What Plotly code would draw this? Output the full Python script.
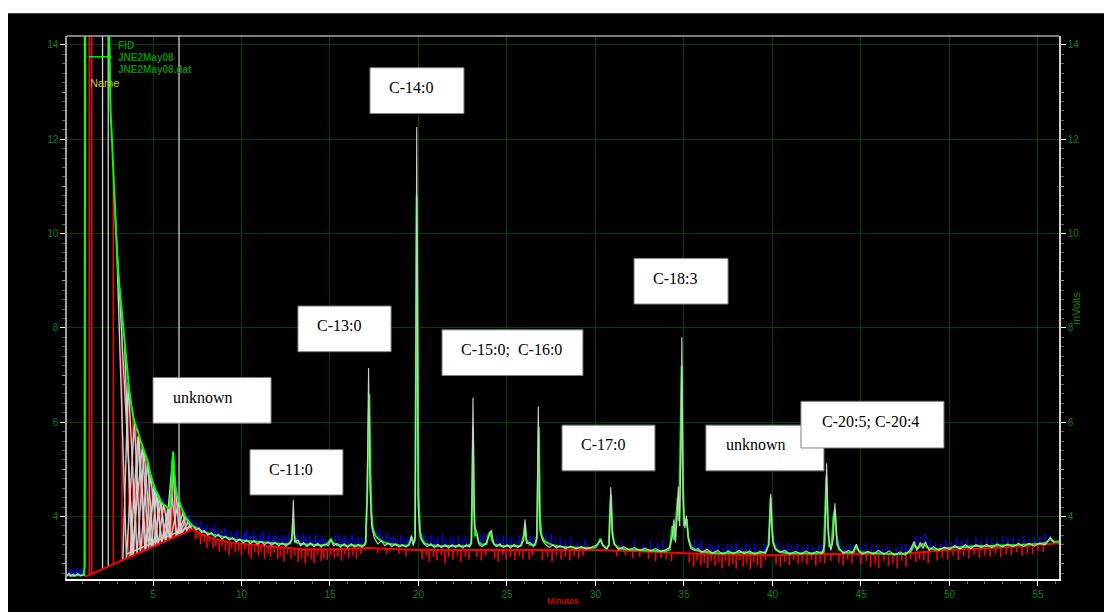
import numpy as np
import plotly.graph_objects as go

# FID detector trace, JNE2May08.dat  (retention time in minutes, signal in mV)
green_min = [0.14, 0.3, 0.5, 0.7, 0.9, 1.08, 1.14, 1.17, 2.50, 2.55, 2.60, 2.68, 2.76, 2.85, 2.95, 3.05,
             3.15, 3.23, 3.35, 3.51, 3.65, 3.80, 3.92, 4.05, 4.15, 4.3, 4.45, 4.6, 4.72, 4.85, 5.0, 5.15,
             5.3, 5.45, 5.56, 5.7, 5.85, 5.96, 6.04, 6.10, 6.14, 6.2, 6.28, 6.36, 6.5, 6.6, 6.7, 6.85,
             7.0, 7.1, 7.25, 7.37, 7.5, 7.66, 7.8, 8.0, 8.2, 8.39, 8.6, 8.8, 9.0, 9.25, 9.52, 9.8,
             10.1, 10.4, 10.7, 11.0, 11.3, 11.6, 11.9, 12.2, 12.5, 12.75, 12.85, 12.92, 12.98, 13.1,
             13.3, 13.6, 13.9, 14.2, 14.5, 14.8, 14.95, 15.05, 15.15, 15.4, 15.7, 16.0, 16.3, 16.6,
             16.9, 17.02, 17.1, 17.17, 17.22, 17.28, 17.34, 17.42, 17.55, 17.75, 18.0, 18.3, 18.6,
             18.9, 19.2, 19.45, 19.55, 19.62, 19.7, 19.8, 19.86, 19.9, 19.95, 20.0, 20.08, 20.2, 20.4,
             20.7, 21.0, 21.3, 21.6, 21.9, 22.2, 22.5, 22.8, 22.98, 23.04, 23.08, 23.13, 23.2, 23.3,
             23.4, 23.6, 23.85, 23.95, 24.05, 24.15, 24.3, 24.6, 24.9, 25.2, 25.5, 25.8, 25.95, 26.02,
             26.1, 26.3, 26.6, 26.7, 26.75, 26.8, 26.86, 26.95, 27.1, 27.4, 27.7, 28.0, 28.4, 28.8,
             29.2, 29.6, 30.0, 30.15, 30.28, 30.4, 30.6, 30.75, 30.82, 30.88, 30.95, 31.05, 31.3,
             31.6, 32.0, 32.4, 32.8, 33.2, 33.6, 33.9, 34.2, 34.35, 34.43, 34.55, 34.65, 34.72, 34.8,
             34.87, 34.93, 35.0, 35.1, 35.15, 35.25, 35.4, 35.7, 36.0, 36.4, 36.8, 37.2, 37.6, 38.0,
             38.4, 38.8, 39.2, 39.6, 39.78, 39.85, 39.9, 39.97, 40.05, 40.2, 40.5, 40.9, 41.3, 41.7,
             42.1, 42.5, 42.9, 42.98, 43.05, 43.12, 43.22, 43.35, 43.45, 43.53, 43.62, 43.75, 44.0,
             44.3, 44.6, 44.72, 44.8, 45.0, 45.4, 45.8, 46.2, 46.6, 47.0, 47.4, 47.8, 48.0, 48.2,
             48.5, 48.8, 49.2, 49.6, 50.0, 50.4, 50.8, 51.2, 51.6, 52.0, 52.4, 52.8, 53.2, 53.6,
             54.0, 54.4, 54.8, 55.2, 55.5, 55.7, 55.9, 56.19]
green_mv = [2.75, 2.76, 2.74, 2.76, 2.75, 2.76, 2.95, 15.0, 15.0, 13.2, 12.6, 12.0, 11.3, 10.4, 9.7, 9.1,
            8.7, 8.35, 7.8, 7.1, 6.7, 6.3, 6.05, 5.9, 5.8, 5.6, 5.45, 5.3, 5.15, 4.9, 4.7, 4.55,
            4.45, 4.32, 4.27, 4.22, 4.18, 4.2, 4.55, 5.2, 5.37, 4.95, 4.6, 4.45, 4.3, 4.2, 4.1, 3.98,
            3.9, 3.86, 3.8, 3.77, 3.74, 3.7, 3.68, 3.66, 3.63, 3.62, 3.6, 3.58, 3.56, 3.54, 3.52, 3.5,
            3.49, 3.47, 3.46, 3.45, 3.44, 3.43, 3.42, 3.42, 3.41, 3.43, 3.55, 3.95, 3.62, 3.45,
            3.42, 3.41, 3.4, 3.4, 3.39, 3.4, 3.46, 3.52, 3.45, 3.39, 3.39, 3.38, 3.39, 3.38,
            3.39, 3.45, 4.4, 6.3, 6.6, 5.0, 4.1, 3.75, 3.6, 3.52, 3.46, 3.42, 3.4,
            3.39, 3.38, 3.39, 3.5, 3.56, 3.42, 3.5, 7.5, 10.8, 8.0, 4.5, 3.7, 3.5, 3.42,
            3.39, 3.38, 3.37, 3.38, 3.37, 3.38, 3.37, 3.38, 3.42, 4.6, 5.9, 4.3, 3.6, 3.62,
            3.45, 3.4, 3.42, 3.6, 3.68, 3.5, 3.4, 3.38, 3.37, 3.38, 3.37, 3.38, 3.6, 3.85,
            3.5, 3.4, 3.4, 3.6, 5.6, 5.9, 4.0, 3.6, 3.48, 3.42, 3.38, 3.36, 3.35, 3.34,
            3.33, 3.33, 3.34, 3.42, 3.53, 3.4, 3.33, 3.38, 4.1, 4.45, 3.7, 3.42, 3.33,
            3.31, 3.3, 3.29, 3.28, 3.27, 3.26, 3.26, 3.3, 3.8, 3.5, 3.9, 4.4, 3.9, 5.5,
            7.2, 5.0, 3.8, 3.9, 3.95, 3.55, 3.35, 3.28, 3.25, 3.24, 3.22, 3.22, 3.22, 3.23,
            3.24, 3.22, 3.22, 3.24, 3.4, 4.0, 4.4, 3.8, 3.45, 3.3, 3.24, 3.22, 3.22, 3.22,
            3.22, 3.22, 3.25, 4.3, 4.85, 3.9, 3.35, 3.4, 4.0, 4.15, 3.6, 3.3, 3.24,
            3.23, 3.25, 3.4, 3.3, 3.24, 3.23, 3.23, 3.22, 3.21, 3.2, 3.21, 3.25, 3.4, 3.32,
            3.42, 3.33, 3.3, 3.32, 3.34, 3.35, 3.35, 3.36, 3.38, 3.37, 3.38, 3.38, 3.39, 3.39,
            3.4, 3.4, 3.41, 3.42, 3.45, 3.52, 3.46, 3.47]

# Second (grey) detector trace: finer sampling, full peak apexes
grey_min = [0.14, 0.25, 0.35, 0.5, 0.6, 0.75, 0.9, 1.05, None,
            7.3, 7.45, 7.6, 7.75, 7.9, 8.1, 8.3, 8.5, 8.7, 8.9, 9.1, 9.3, 9.5, 9.7, 9.9, 10.1, 10.3,
            10.5, 10.7, 10.9, 11.1, 11.3, 11.5, 11.7, 11.9, 12.1, 12.3, 12.5, 12.7, 12.85, 12.93,
            13.0, 13.2, 13.35, 13.5, 13.7, 13.9, 14.1, 14.3, 14.5, 14.7, 14.9, 15.05, 15.2, 15.4,
            15.6, 15.8, 16.0, 16.2, 16.4, 16.6, 16.8, 17.0, 17.1, 17.18, 17.26, 17.35, 17.5, 17.7,
            17.9, 18.1, 18.3, 18.5, 18.7, 18.9, 19.1, 19.3, 19.5, 19.6, 19.7, 19.82, 19.9, 19.98,
            20.1, 20.3, 20.5, 20.7, 20.9, 21.1, 21.3, 21.5, 21.7, 21.9, 22.1, 22.3, 22.5, 22.7,
            22.9, 23.0, 23.08, 23.16, 23.3, 23.42, 23.6, 23.8, 23.95, 24.12, 24.25, 24.4, 24.6,
            24.8, 25.0, 25.2, 25.4, 25.6, 25.8, 25.95, 26.02, 26.1, 26.3, 26.5, 26.68, 26.77,
            26.86, 27.0, 27.2, 27.4, 27.6, 27.8, 28.0, 28.3, 28.6, 28.9, 29.2, 29.5, 29.8, 30.1,
            30.29, 30.45, 30.65, 30.78, 30.86, 30.95, 31.1, 31.3, 31.6, 31.9, 32.2, 32.5, 32.8,
            33.1, 33.4, 33.7, 34.0, 34.2, 34.35, 34.43, 34.52, 34.6, 34.68, 34.76, 34.82, 34.88,
            34.95, 35.05, 35.14, 35.25, 35.4, 35.6, 35.8, 36.0, 36.3, 36.6, 36.9, 37.2, 37.5,
            37.8, 38.1, 38.4, 38.7, 39.0, 39.3, 39.6, 39.8, 39.9, 40.0, 40.15, 40.4, 40.7, 41.0,
            41.3, 41.6, 41.9, 42.2, 42.5, 42.8, 42.96, 43.06, 43.16, 43.3, 43.43, 43.53, 43.64,
            43.8, 44.0, 44.3, 44.5, 44.75, 44.9, 45.1, 45.4, 45.7, 46.0, 46.3, 46.6, 46.9, 47.2,
            47.5, 47.8, 48.0, 48.15, 48.35, 48.5, 48.65, 48.85, 49.1, 49.4, 49.7, 50.0, 50.3,
            50.6, 50.9, 51.2, 51.5, 51.8, 52.1, 52.4, 52.7, 53.0, 53.3, 53.6, 53.9, 54.2, 54.5,
            54.8, 55.1, 55.4, 55.7, 55.9]
grey_mv = [2.74, 2.8, 2.73, 2.78, 2.74, 2.79, 2.74, 2.77, None,
           3.78, 3.72, 3.76, 3.66, 3.7, 3.6, 3.66, 3.56, 3.62, 3.52, 3.58, 3.5, 3.55, 3.46, 3.52, 3.44, 3.5,
           3.42, 3.49, 3.41, 3.47, 3.4, 3.46, 3.39, 3.45, 3.38, 3.44, 3.37, 3.43, 3.5, 4.35,
           3.45, 3.5, 3.37, 3.45, 3.36, 3.44, 3.36, 3.43, 3.35, 3.42, 3.38, 3.5, 3.38, 3.43,
           3.35, 3.42, 3.35, 3.42, 3.35, 3.41, 3.35, 3.4, 4.5, 7.15, 4.6, 3.8, 3.55, 3.42,
           3.48, 3.38, 3.44, 3.36, 3.42, 3.35, 3.4, 3.35, 3.42, 3.6, 3.38, 3.6, 12.26, 4.2,
           3.55, 3.42, 3.36, 3.42, 3.34, 3.41, 3.34, 3.4, 3.33, 3.4, 3.34, 3.41, 3.33, 3.4,
           3.35, 3.5, 6.52, 3.8, 3.66, 3.4, 3.36, 3.42, 3.55, 3.71, 3.42, 3.36, 3.42,
           3.34, 3.4, 3.33, 3.41, 3.34, 3.4, 3.5, 3.94, 3.42, 3.45, 3.36, 3.5, 6.33,
           3.7, 3.5, 3.4, 3.34, 3.4, 3.33, 3.38, 3.32, 3.37, 3.31, 3.36, 3.31, 3.35, 3.4,
           3.5, 3.36, 3.31, 3.4, 4.62, 3.6, 3.4, 3.3, 3.36, 3.29, 3.34, 3.28, 3.33,
           3.27, 3.32, 3.26, 3.3, 3.35, 3.6, 3.94, 3.45, 3.9, 4.63, 3.8, 5.2, 7.8,
           4.4, 3.75, 4.02, 3.5, 3.32, 3.28, 3.32, 3.24, 3.3, 3.22, 3.28, 3.2, 3.27,
           3.21, 3.28, 3.21, 3.27, 3.2, 3.26, 3.22, 3.4, 4.48, 3.5, 3.3, 3.24, 3.28, 3.2,
           3.26, 3.2, 3.27, 3.2, 3.26, 3.21, 3.4, 5.13, 3.6, 3.28, 3.5, 4.28, 3.4,
           3.32, 3.22, 3.28, 3.22, 3.41, 3.25, 3.2, 3.26, 3.2, 3.28, 3.2, 3.27, 3.18, 3.25,
           3.18, 3.3, 3.47, 3.28, 3.45, 3.32, 3.46, 3.28, 3.36, 3.28, 3.35, 3.3, 3.38,
           3.31, 3.4, 3.32, 3.4, 3.34, 3.41, 3.34, 3.42, 3.35, 3.42, 3.36, 3.43, 3.36, 3.43,
           3.37, 3.44, 3.4, 3.56, 3.45]

# Integration baseline
base_min = [1.16, 7.26, 7.66, 8.4, 9.5, 11.4, 13.3, 15.0, 17.0, 20.0, 25.0, 30.0, 32.0, 35.0,
            38.0, 40.0, 42.0, 45.0, 47.0, 50.0, 53.0, 55.0, 56.19]
base_mv = [2.72, 3.73, 3.64, 3.53, 3.44, 3.37, 3.31, 3.3, 3.33, 3.29, 3.29, 3.29, 3.27, 3.22,
           3.19, 3.18, 3.2, 3.21, 3.2, 3.29, 3.34, 3.39, 3.43]

# Peak drop lines in the solvent tail
drop_min = [1.40, 1.54, 2.76, 3.25, 3.62, 3.85, 4.05, 4.25, 4.42, 4.6, 4.78, 4.95, 5.1, 5.25,
            5.4, 5.55, 5.72, 5.88, 6.04, 6.12, 6.25, 6.4, 6.58, 6.75, 6.92, 7.08]

# Peak start / stop markers in the solvent tail (None separates markers)
fan_min = [2.95, 3.5, 3.95, 4.3, 4.7, 5.0, 5.45, 5.7, 6.14, 6.3, 6.7, 6.9, 7.1, None,
           3.3, 3.6, 4.1, 4.5, 4.9, 5.2, 5.5, 5.85, 6.0, 6.45, 6.6, 7.0, None,
           2.8, 3.9, 4.2, 4.6, 4.85, 5.3, 5.6, 5.95, 6.14, None,
           3.4, 3.8, 4.4, 4.75, 5.05, 5.15, 5.35, 5.75, 6.2, 6.5, 6.85, 7.2, None,
           3.7, 4.15, 4.55, 5.12, 5.5, 6.05, 6.35, 6.8, None,
           3.5, 7.2]
fan_mv = [9.7, 3.108, 6.0, 3.24, 5.18, 3.356, 4.32, 3.47, 5.37, 3.571, 4.1, 3.67, 3.86, None,
          3.074, 6.85, 3.207, 5.4, 3.34, 4.52, 3.44, 4.18, 3.52, 4.33, 3.62, 3.9, None,
          10.9, 3.174, 5.73, 3.29, 4.9, 3.406, 4.26, 3.513, 5.37, None,
          7.6, 3.16, 5.5, 3.32, 4.65, 3.37, 4.44, 3.48, 4.95, 3.6, 3.98, 3.72, None,
          3.14, 5.7, 3.28, 4.57, 3.44, 4.5, 3.58, 4.0, None,
          3.2, 3.8]

# Timed events (vertical markers) and where they stop
event_min = [1.13, 2.15, 2.47, 6.47]
event_low = [2.74, 2.88, 2.93, 3.85]

# Positive noise spikes above the trace (min, height mV)
blue_min = [0.3, 0.42, 0.55, 0.68, 0.8, 0.95, 3.93, 4.85, 5.3, 5.55, 6.35, 6.8, 7.05, 7.2,
            7.45, 7.7, 7.85, 8.05, 8.3, 8.5, 8.65, 8.85, 9.05, 9.2, 9.4, 9.6, 9.75, 9.95, 10.15,
            10.3, 10.5, 10.7, 10.85, 11.05, 11.2, 11.4, 11.55, 11.75, 11.9, 12.1, 12.3, 12.45,
            12.65, 13.15, 13.3, 13.5, 13.65, 13.85, 14.0, 14.2, 14.4, 14.55, 14.75, 15.3, 15.5,
            15.7, 15.85, 16.05, 16.25, 16.4, 16.6, 16.8, 17.6, 17.8, 18.0, 18.2, 18.4, 18.6,
            18.8, 19.0, 19.2, 19.4, 20.3, 20.5, 20.7, 20.9, 21.1, 21.35, 21.55, 21.8, 22.0,
            22.25, 22.5, 22.7, 23.5, 23.7, 24.4, 24.6, 24.8, 25.0, 25.25, 25.5, 25.7, 26.3,
            26.5, 27.2, 27.5, 27.75, 28.0, 28.3, 28.6, 29.0, 29.4, 31.5, 32.2, 32.7, 33.1, 33.5,
            33.8, 35.6, 35.8, 36.0, 36.25, 36.5, 36.7, 36.95, 37.2, 37.45, 37.7, 37.95, 38.2,
            38.5, 38.75, 39.0, 39.3, 39.55, 40.3, 40.6, 40.85, 41.1, 41.4, 41.7, 42.0, 42.3,
            42.6, 42.8, 43.8, 44.1, 44.4, 45.0, 45.3, 45.6, 45.9, 46.2, 46.5, 47.0, 47.3, 47.55,
            47.8, 48.1, 48.35, 48.6, 48.9, 49.2, 49.5, 49.8, 50.1, 50.4, 50.7, 51.0, 51.5, 51.8,
            52.1, 52.4, 52.7, 53.0, 53.3, 53.6, 53.9, 54.2, 54.5, 54.8, 55.1, 55.4]
blue_h = [0.12, 0.15, 0.08, 0.13, 0.1, 0.14, 0.08, 0.1, 0.1, 0.12, 0.1, 0.12, 0.15, 0.12,
          0.15, 0.2, 0.1, 0.18, 0.12, 0.2, 0.1, 0.15, 0.22, 0.1, 0.16, 0.12, 0.2, 0.1, 0.18,
          0.22, 0.14, 0.2, 0.1, 0.18, 0.24, 0.12, 0.2, 0.15, 0.22, 0.12, 0.2, 0.16,
          0.22, 0.2, 0.12, 0.22, 0.15, 0.2, 0.1, 0.22, 0.14, 0.2, 0.12, 0.18, 0.22,
          0.12, 0.2, 0.15, 0.24, 0.12, 0.2, 0.16, 0.15, 0.2, 0.12, 0.22, 0.15, 0.2,
          0.12, 0.22, 0.14, 0.18, 0.2, 0.12, 0.22, 0.14, 0.2, 0.25, 0.12, 0.2, 0.15,
          0.22, 0.12, 0.2, 0.18, 0.22, 0.2, 0.12, 0.22, 0.15, 0.2, 0.12, 0.22, 0.2,
          0.15, 0.18, 0.22, 0.12, 0.2, 0.15, 0.22, 0.12, 0.18, 0.15, 0.2, 0.12, 0.22, 0.18,
          0.24, 0.22, 0.15, 0.25, 0.12, 0.2, 0.15, 0.22, 0.12, 0.2, 0.15, 0.22, 0.12,
          0.2, 0.15, 0.22, 0.12, 0.18, 0.2, 0.12, 0.22, 0.15, 0.2, 0.15, 0.2, 0.12,
          0.18, 0.15, 0.2, 0.12, 0.18, 0.15, 0.2, 0.12, 0.15, 0.12, 0.18, 0.15, 0.2, 0.18,
          0.12, 0.22, 0.2, 0.25, 0.2, 0.15, 0.12, 0.18, 0.12, 0.2, 0.15, 0.18, 0.2, 0.12,
          0.18, 0.15, 0.12, 0.2, 0.15, 0.18, 0.12, 0.2, 0.12, 0.18, 0.15, 0.2]

# Negative noise spikes below the baseline (min, depth mV)
red_min = [7.4, 7.55, 7.7, 7.9, 8.05, 8.2, 8.4, 8.55, 8.75, 8.9, 9.1, 9.3, 9.45, 9.65, 9.85,
           10.0, 10.2, 10.4, 10.55, 10.75, 10.95, 11.1, 11.3, 11.5, 11.65, 11.85, 12.05, 12.2,
           12.4, 12.6, 12.8, 13.0, 13.2, 13.4, 13.6, 13.75, 13.95, 14.1, 14.3, 14.5, 14.65,
           14.85, 15.05, 15.25, 15.45, 15.65, 15.85, 16.05, 16.3, 16.5, 16.75, 17.7, 18.2, 18.9,
           19.3, 20.2, 20.45, 20.6, 20.85, 21.05, 21.3, 21.5, 21.7, 21.95, 22.2, 22.4, 22.65,
           22.85, 23.3, 23.55, 23.8, 24.3, 24.5, 24.75, 24.95, 25.2, 25.45, 25.7, 25.9, 26.25,
           26.45, 27.0, 27.3, 27.55, 27.8, 28.05, 28.3, 28.55, 28.8, 29.05, 29.3, 31.2, 31.7,
           32.1, 32.5, 33.0, 33.4, 33.7, 34.0, 34.3, 35.3, 35.55, 35.75, 35.95, 36.15, 36.35,
           36.55, 36.75, 36.95, 37.15, 37.35, 37.55, 37.75, 37.95, 38.15, 38.35, 38.55, 38.75,
           38.95, 39.15, 39.35, 39.6, 40.2, 40.45, 40.7, 40.95, 41.2, 41.45, 41.7, 41.95, 42.2,
           42.45, 42.7, 42.95, 43.3, 43.75, 44.0, 44.25, 44.5, 45.0, 45.3, 45.55, 45.8, 46.0,
           46.3, 46.55, 46.8, 47.05, 47.3, 47.55, 47.8, 48.1, 48.3, 48.55, 48.8, 49.3, 49.6,
           49.9, 50.2, 50.5, 50.8, 51.1, 51.4, 51.7, 52.0, 52.3, 52.6, 52.9, 53.2, 53.5, 53.8,
           54.1, 54.4, 54.7, 55.0, 55.3]
red_d = [0.18, 0.12, 0.22, 0.15, 0.25, 0.1, 0.2, 0.15, 0.25, 0.12, 0.2, 0.28, 0.12, 0.2, 0.15,
         0.25, 0.12, 0.22, 0.3, 0.15, 0.22, 0.12, 0.28, 0.15, 0.22, 0.12, 0.25, 0.18,
         0.3, 0.12, 0.22, 0.15, 0.28, 0.2, 0.3, 0.15, 0.22, 0.3, 0.12, 0.25, 0.18,
         0.22, 0.12, 0.2, 0.15, 0.25, 0.12, 0.2, 0.15, 0.22, 0.12, 0.1, 0.12, 0.1,
         0.15, 0.2, 0.12, 0.25, 0.15, 0.22, 0.12, 0.28, 0.15, 0.2, 0.12, 0.25, 0.15,
         0.2, 0.15, 0.22, 0.12, 0.18, 0.25, 0.12, 0.2, 0.15, 0.22, 0.12, 0.18, 0.2,
         0.12, 0.22, 0.15, 0.25, 0.12, 0.2, 0.15, 0.22, 0.12, 0.18, 0.12, 0.12, 0.1,
         0.15, 0.12, 0.15, 0.2, 0.12, 0.15, 0.18, 0.2, 0.28, 0.15, 0.25, 0.2, 0.3,
         0.15, 0.25, 0.18, 0.3, 0.15, 0.25, 0.2, 0.3, 0.12, 0.25, 0.18, 0.3,
         0.15, 0.22, 0.28, 0.12, 0.2, 0.25, 0.15, 0.22, 0.12, 0.2, 0.15, 0.22, 0.12,
         0.25, 0.18, 0.2, 0.15, 0.18, 0.25, 0.12, 0.2, 0.22, 0.15, 0.28, 0.2, 0.3,
         0.15, 0.25, 0.2, 0.3, 0.15, 0.28, 0.12, 0.2, 0.15, 0.18, 0.25, 0.2, 0.15,
         0.2, 0.12, 0.22, 0.15, 0.2, 0.12, 0.2, 0.15, 0.18, 0.12, 0.2, 0.15, 0.18, 0.12,
         0.2, 0.15, 0.18, 0.12, 0.15]

# Peak identification labels: text, box (min range, mV range), text anchor (min, mV)
peak_labels = ["unknown", "C-11:0", "C-13:0", "C-14:0", "C-15:0;  C-16:0", "C-17:0",
               "C-18:3", "unknown", "C-20:5; C-20:4"]
label_box_min = [(5.00, 11.67), (10.48, 15.73), (13.19, 18.45), (17.26, 22.57), (21.33, 29.29),
                 (28.11, 33.36), (32.18, 37.49), (36.24, 42.91), (41.61, 49.69)]
label_box_mv = [(5.979, 6.947), (4.457, 5.417), (7.495, 8.463), (12.547, 13.516), (6.99, 7.958),
                (4.968, 5.937), (8.505, 9.474), (4.968, 5.937), (5.453, 6.442)]
label_text_min = [6.13, 11.55, 14.27, 18.33, 22.40, 29.18, 33.25, 37.37, 42.80]
label_text_mv = [6.526, 5.0, 8.042, 13.095, 7.537, 5.516, 9.053, 5.516, 6.011]

legend_lines = ["FID", "JNE2May08", "JNE2May08.dat"]

X_RANGE = [0.141, 56.19]
Y_RANGE = [2.674, 14.19]
TOP = 15.0

GREEN = "#00ff00"
GREY = "#cfcfcf"
LABEL_GREEN = "#118011"
GRID = "#004400"

W, H = 1104, 612
ML, MR, MT, MB = 67, 45, 36, 29


def px_x(px):
    return (px - ML) / (W - ML - MR)


def px_y(py):
    return (H - MB - py) / (H - MT - MB)


def verticals(xs, lows, highs):
    X, Y = [], []
    for x, a, b in zip(xs, lows, highs):
        X += [x, x, None]
        Y += [a, b, None]
    return X, Y


fig = go.Figure()

# timed event markers
ex, ey = verticals(event_min, event_low, [TOP] * len(event_min))
fig.add_trace(go.Scatter(x=ex, y=ey, mode="lines", line=dict(color=GREY, width=1.3),
                         hoverinfo="skip", showlegend=False))

# drop lines from the trace down to the baseline
drop_top = np.interp(drop_min, green_min, green_mv)
drop_bot = np.interp(drop_min, base_min, base_mv)
dx, dy = verticals(drop_min, drop_bot, drop_top)
fig.add_trace(go.Scatter(x=dx, y=dy, mode="lines", line=dict(color="#ff0000", width=1.5),
                         hoverinfo="skip", showlegend=False))

# peak start/stop markers
fig.add_trace(go.Scatter(x=fan_min, y=fan_mv, mode="lines", line=dict(color=GREY, width=1.4),
                         hoverinfo="skip", showlegend=False, connectgaps=False))

# noise spikes above the trace
b_lo = np.interp(blue_min, green_min, green_mv)
bx, by = verticals(blue_min, b_lo, b_lo + np.array(blue_h))
fig.add_trace(go.Scatter(x=bx, y=by, mode="lines", line=dict(color="#0000ff", width=1.5),
                         hoverinfo="skip", showlegend=False))

# noise spikes below the baseline
r_hi = np.interp(red_min, base_min, base_mv)
rx, ry = verticals(red_min, r_hi - np.array(red_d), r_hi)
fig.add_trace(go.Scatter(x=rx, y=ry, mode="lines", line=dict(color="#ff0000", width=1.6),
                         hoverinfo="skip", showlegend=False))

# baseline
fig.add_trace(go.Scatter(x=base_min, y=base_mv, mode="lines", line=dict(color="#ff0000", width=2),
                         hoverinfo="skip", showlegend=False))

# main FID trace
fig.add_trace(go.Scatter(x=green_min, y=green_mv, mode="lines", line=dict(color=GREEN, width=2),
                         hoverinfo="skip", showlegend=False))

# grey detector trace on top
fig.add_trace(go.Scatter(x=grey_min, y=grey_mv, mode="lines", line=dict(color=GREY, width=1.1),
                         hoverinfo="skip", showlegend=False, connectgaps=False))

# placeholders so the extra axes are laid out
for ax in ["y2", "y3", "y4"]:
    fig.add_trace(go.Scatter(x=[X_RANGE[0]], y=[Y_RANGE[0]], yaxis=ax, mode="markers",
                             marker=dict(opacity=0), hoverinfo="skip", showlegend=False))

tick_font = dict(family="Liberation Sans, Arial, sans-serif", size=10, color=LABEL_GREEN)
minor_y = dict(dtick=0.2, tick0=0, ticks="outside", ticklen=3, tickcolor="#2b8a2b", showgrid=False)

fig.update_layout(
    width=W, height=H,
    margin=dict(l=ML, r=MR, t=MT, b=MB, pad=0),
    paper_bgcolor="white", plot_bgcolor="black",
    showlegend=False,
    xaxis=dict(range=X_RANGE, dtick=5, tick0=0, showgrid=True, gridcolor=GRID, gridwidth=1,
               zeroline=False, ticks="outside", ticklen=5, tickcolor="white", tickwidth=1,
               tickfont=tick_font, showline=True, linecolor="white", linewidth=2,
               minor=dict(dtick=1, tick0=0, ticks="outside", ticklen=3, tickcolor="#2b8a2b",
                          showgrid=False)),
    yaxis=dict(range=Y_RANGE, dtick=2, tick0=0, showgrid=True, gridcolor=GRID, gridwidth=1,
               zeroline=False, ticks="outside", ticklen=5, tickcolor="white", tickwidth=1,
               tickfont=tick_font, showline=True, linecolor="#a0a0a0", linewidth=1.5,
               minor=minor_y),
    yaxis2=dict(range=Y_RANGE, overlaying="y", side="right", anchor="x", dtick=2, tick0=0,
                showgrid=False, zeroline=False, ticks="outside", ticklen=5, tickcolor="white",
                tickfont=tick_font, showline=True, linecolor="#d0d0d0", linewidth=1.5,
                minor=minor_y),
    yaxis3=dict(range=Y_RANGE, overlaying="y", side="left", anchor="x",
                tickvals=[3, 5, 7, 9, 11, 13], ticks="outside", ticklen=4, tickcolor="#a0a0a0",
                showticklabels=False, showgrid=False, zeroline=False, showline=False),
    yaxis4=dict(range=Y_RANGE, overlaying="y", side="right", anchor="x",
                tickvals=[3, 5, 7, 9, 11, 13], ticks="outside", ticklen=4, tickcolor="#a0a0a0",
                showticklabels=False, showgrid=False, zeroline=False, showline=False),
)

shapes = [
    # black instrument window behind the plot
    dict(type="rect", xref="paper", yref="paper", x0=px_x(8), x1=px_x(W + 20),
         y0=px_y(H + 20), y1=px_y(13), fillcolor="black", line=dict(width=0), layer="below"),
    # top frame
    dict(type="line", xref="paper", yref="paper", x0=0, x1=1, y0=1, y1=1,
         line=dict(color="#a8a8a8", width=1.5), layer="above"),
    # legend swatch
    dict(type="line", xref="paper", yref="paper", x0=px_x(89), x1=px_x(111),
         y0=px_y(57), y1=px_y(57), line=dict(color=GREEN, width=1.5), layer="above"),
]
for (x0, x1), (y0, y1) in zip(label_box_min, label_box_mv):
    shapes.append(dict(type="rect", xref="x", yref="y", x0=x0, x1=x1, y0=y0, y1=y1,
                       fillcolor="white", line=dict(color="#7f7f7f", width=1), layer="above"))

annotations = []
for txt, tx, ty in zip(peak_labels, label_text_min, label_text_mv):
    annotations.append(dict(text=txt, x=tx, y=ty, xref="x", yref="y", xanchor="left",
                            yanchor="middle", showarrow=False, borderpad=0, borderwidth=0,
                            font=dict(family="Liberation Serif, Times New Roman, serif",
                                      size=16, color="black")))
for i, txt in enumerate(legend_lines):
    annotations.append(dict(text=txt, x=px_x(117), y=px_y(45.5 + 12.3 * i), xref="paper",
                            yref="paper", xanchor="left", yanchor="middle", showarrow=False,
                            borderpad=0,
                            font=dict(family="Liberation Sans, Arial, sans-serif", size=10,
                                      color="#0c8a0c", weight="bold")))
annotations += [
    dict(text="Name", x=px_x(89), y=px_y(83), xref="paper", yref="paper", xanchor="left",
         yanchor="middle", showarrow=False, borderpad=0,
         font=dict(family="Liberation Sans, Arial, sans-serif", size=11, color="#c8c800")),
    dict(text="mVolts", x=px_x(1076), y=px_y(310), xref="paper", yref="paper",
         xanchor="center", yanchor="middle", textangle=-90, showarrow=False,
         font=dict(family="Liberation Sans, Arial, sans-serif", size=11, color=LABEL_GREEN)),
    dict(text="Minutes", x=0.5, y=px_y(611), xref="paper", yref="paper", xanchor="center",
         yanchor="bottom", showarrow=False, borderpad=0,
         font=dict(family="Liberation Sans, Arial, sans-serif", size=9, color="#ff0000")),
]

fig.update_layout(shapes=shapes, annotations=annotations)
fig.write_html("out.html")
